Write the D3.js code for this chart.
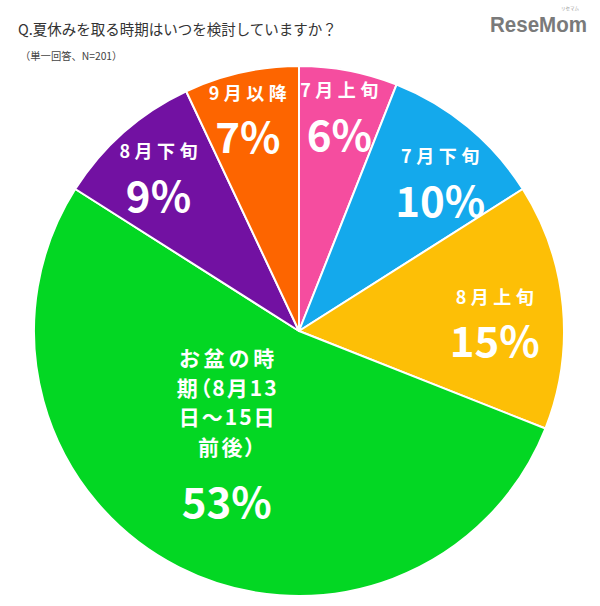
<!DOCTYPE html>
<html>
<head>
<meta charset="utf-8">
<script src="https://cdn.jsdelivr.net/npm/d3@7"></script>
<style>
  html, body { margin: 0; padding: 0; background: #fff; }
  svg { display: block; }
</style>
</head>
<body>
<svg id="chart" width="600" height="606"></svg>
<script>
// ---- data ----
const categories = ["7月上旬", "7月下旬", "8月上旬", "お盆の時期", "8月下旬", "9月以降"];
const labelLines = [["7月上旬"], ["7月下旬"], ["8月上旬"], ["お盆の時", "期（8月13", "日～15日", "前後）"], ["8月下旬"], ["9月以降"]];
const values = [6, 10, 15, 53, 9, 7];
const colors = ["#f54d9f", "#14a9ec", "#fdbf06", "#03d723", "#7211a2", "#fd6500"];
const title = "Q.夏休みを取る時期はいつを検討していますか？";
const subtitle = "（単一回答、N=201）";

// ---- layout ----
const cx = 299, cy = 331, R = 265;
const labelRadius = [221, 207, 196, 123, 210, 221];
const labelAngleShift = [-0.3, 3.4, 2.2, 9, -0.6, -0.8]; // degrees
const multiSpacing = [4, 2, 2, 2.5];

const svg = d3.select("#chart");
const font = "'Noto Sans CJK JP', 'Noto Sans', sans-serif";

svg.append("text").attr("x", 18).attr("y", 35)
  .attr("font-family", font).attr("font-size", 14.5).attr("fill", "#333")
  .text(title);
svg.append("text").attr("x", 20).attr("y", 60)
  .attr("font-family", font).attr("font-size", 10.3).attr("fill", "#444")
  .text(subtitle);

// logo
svg.append("text").attr("x", 490).attr("y", 32)
  .attr("font-family", "'Liberation Sans', Arial, sans-serif").attr("font-weight", 700)
  .attr("font-size", 22).attr("fill", "#7a7a7a")
  .attr("textLength", 97).attr("lengthAdjust", "spacingAndGlyphs")
  .text("ReseMom");
svg.append("text").attr("x", 570).attr("y", 10)
  .attr("font-family", font).attr("font-size", 4.5).attr("fill", "#999")
  .attr("text-anchor", "middle")
  .text("リセマム");

const pie = d3.pie().sort(null).value(d => d);
const arcs = pie(values);
const arc = d3.arc().innerRadius(0).outerRadius(R);

const g = svg.append("g").attr("transform", `translate(${cx},${cy})`);

g.selectAll("path.slice").data(arcs).join("path")
  .attr("class", "slice")
  .attr("d", arc)
  .attr("fill", (d, i) => colors[i])
  .attr("stroke", "#fff")
  .attr("stroke-width", 2)
  .attr("stroke-linejoin", "round");

const lg = g.selectAll("g.lab").data(arcs).join("g")
  .attr("class", "lab")
  .attr("transform", (d, i) => {
    const a = (d.startAngle + d.endAngle) / 2 + labelAngleShift[i] * Math.PI / 180;
    const r = labelRadius[i];
    return `translate(${r * Math.sin(a)},${-r * Math.cos(a)})`;
  });

lg.each(function(d, i) {
  const sel = d3.select(this);
  const lines = labelLines[i];
  const multi = lines.length > 1;
  const fs = multi ? 21 : 18;
  const step = multi ? 29.7 : 0;
  const firstY = multi ? -72 : -23;
  lines.forEach((t, k) => {
    const ls = multi ? multiSpacing[k] : 4.5;
    sel.append("text")
      .attr("x", ls / 2)
      .attr("y", firstY + k * step)
      .attr("dy", "0.36em")
      .attr("text-anchor", "middle")
      .attr("font-family", font)
      .attr("font-weight", 700)
      .attr("font-size", fs)
      .attr("letter-spacing", ls)
      .style("font-feature-settings", multi ? "'palt'" : "normal")
      .attr("fill", "#fff")
      .text(t);
  });
  const pY = multi ? 72 : 22;
  sel.append("text")
    .attr("x", 0)
    .attr("y", pY + 15)
    .attr("text-anchor", "middle")
    .attr("font-family", font)
    .attr("font-weight", 700)
    .attr("font-size", 42)
    .attr("fill", "#fff")
    .text(values[i] + "%");
});
</script>
</body>
</html>
